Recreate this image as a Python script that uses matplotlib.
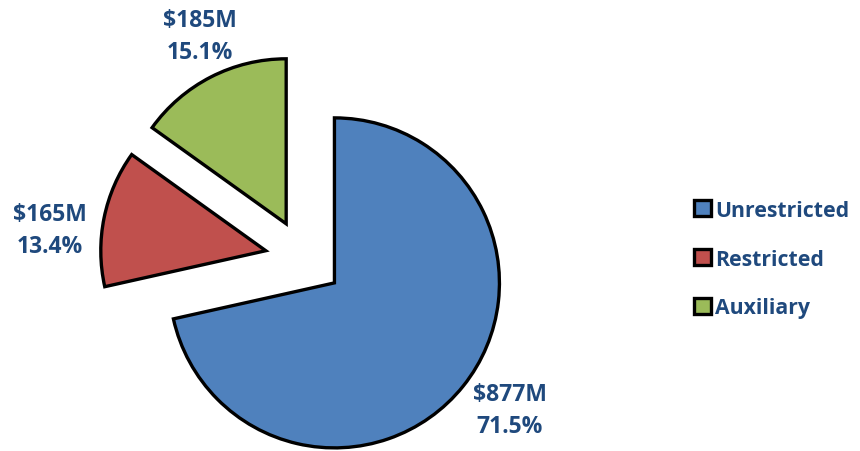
import matplotlib
matplotlib.use("Agg")
import matplotlib.pyplot as plt

# funds, in millions of dollars
names = ["Unrestricted", "Restricted", "Auxiliary"]
amounts = [877, 165, 185]
shares = [71.5, 13.4, 15.1]
colors = ["#4f81bd", "#c0504d", "#9bbb59"]
txt_color = "#1f497d"

plt.rcParams["font.family"] = ["Open Sans", "DejaVu Sans"]

fig = plt.figure(figsize=(8.6, 4.52), dpi=100)
ax = fig.add_axes([0, 0, 1, 1])

# explode is in data units here (1 unit = 1 px)
wedges, _ = ax.pie(shares, colors=colors, startangle=90, counterclock=False,
                   center=(304, 452 - 259.5), radius=165, explode=[39] * 3,
                   wedgeprops=dict(edgecolor="black", linewidth=2.4, joinstyle="miter"),
                   frame=True)
ax.set_xlim(0, 860)
ax.set_ylim(0, 452)
ax.axis("off")

# label spots (pixel coords from top-left)
spots = [(510, 411), (50, 231), (200, 37)]
for (x, y), a, s in zip(spots, amounts, shares):
    ax.text(x, 452 - y, "$%dM\n%.1f%%" % (a, s), ha="center", va="center",
            fontsize=16.5, fontweight="bold", color=txt_color, linespacing=1.4)

leg = ax.legend(wedges, names, loc="center left", bbox_to_anchor=(694 / 860, (452 - 260) / 452),
                frameon=False, borderpad=0, borderaxespad=0, handlelength=0.78, handleheight=0.78,
                handletextpad=0.2, labelspacing=1.3, prop=dict(size=15.3, weight="bold"),
                labelcolor=txt_color)

fig.savefig("out.png", dpi=100)
